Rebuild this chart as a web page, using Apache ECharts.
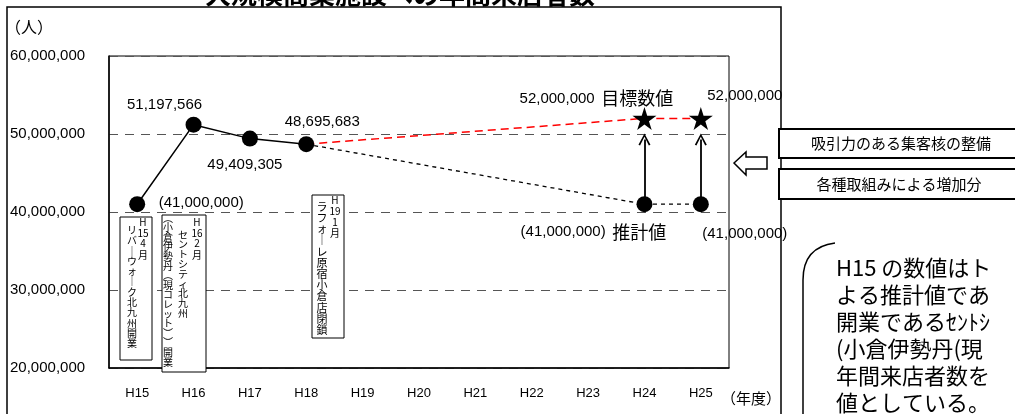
<!DOCTYPE html>
<html>
<head>
<meta charset="utf-8">
<script src="https://cdn.jsdelivr.net/npm/echarts@6.0.0/dist/echarts.min.js"></script>
<style>
html, body {margin:0; padding:0; background:#fff;}
#main {width:1015px; height:414px;}
</style>
</head>
<body>
<div id="main"></div>
<script>
// 年度
var categories = ['H15', 'H16', 'H17', 'H18', 'H19', 'H20', 'H21', 'H22', 'H23', 'H24', 'H25'];
// 実績 (H15は推計値)
var actual = [41000000, 51197566, 49409305, 48695683, null, null, null, null, null, null, null];
// 推計値
var estimate = [null, null, null, 48695683, null, null, null, null, null, 41000000, 41000000];
// 目標数値
var target = [null, null, null, 48695683, null, null, null, null, null, 52000000, 52000000];
// y軸
var yMin = 20000000, yMax = 60000000, yStep = 10000000;
// 増加分の矢印
var arrowCats = ['H24', 'H25'];
var arrowFrom = 41000000, arrowTo = 49300000;

var FONT = "'Liberation Sans', 'Noto Sans CJK JP', sans-serif";
var JP = "'Noto Sans CJK JP', sans-serif";

function fmt(v) {
    return String(v).replace(/\B(?=(\d{3})+(?!\d))/g, ',');
}

var starPath = 'path://M50,0 L61,35 L98,35 L68,57 L79,91 L50,70 L21,91 L32,57 L2,35 L39,35 Z';
var chevron = 'path://M0,12 L6,0 L12,12 L10.4,12.8 L6,3.4 L1.6,12.8 Z';

// ラベル位置
var actualOff = [[64, -1], [-29, -20], [-5, 26], [16, -22]];

var actualData = actual.map(function (v, i) {
    if (v == null) return null;
    return {value: v, label: {offset: actualOff[i]}};
});
var estimateData = estimate.map(function (v, i) {
    if (v == null) return null;
    if (i == 3) return {value: v, symbol: 'none', label: {show: false}};
    if (i == 9) return {value: v, label: {offset: [-51, 28], formatter: '{n|(' + fmt(v) + ')}  {c|推計値}'}};
    return {value: v, label: {offset: [44, 30], formatter: '{n|(' + fmt(v) + ')}'}};
});
var targetData = target.map(function (v, i) {
    if (v == null) return null;
    if (i == 3) return {value: v, symbol: 'none', label: {show: false}};
    if (i == 9) return {value: v, label: {offset: [-48, -20], formatter: '{n|' + fmt(v) + '}  {c|目標数値}'}};
    return {value: v, label: {offset: [44, -23], formatter: '{n|' + fmt(v) + '}'}};
});

var richLbl = {
    n: {fontSize: 15, fontFamily: FONT, color: '#000'},
    c: {fontSize: 18, fontFamily: JP, color: '#000'}
};

// 縦書きテキスト
function vtext(x, y, str, pitch, size) {
    return {
        type: 'text', x: x, y: y, z: 101,
        style: {
            text: str.split('').join('\n'), fill: '#000', font: size + 'px ' + JP,
            lineHeight: pitch, align: 'center', verticalAlign: 'top'
        }
    };
}
function vnum(x, parts, ys, size) {
    return parts.map(function (p, i) {
        return {
            type: 'text', x: x, y: ys[i], z: 101,
            style: {text: p, fill: '#000', font: size + 'px ' + JP, align: 'center', verticalAlign: 'middle'}
        };
    });
}
function box(x, y, w, h, lw) {
    return {
        type: 'rect', z: 100, shape: {x: x, y: y, width: w, height: h},
        style: {fill: '#fff', stroke: '#000', lineWidth: lw || 1}
    };
}

var graphics = [
    {type: 'text', x: 400, y: -6, style: {text: '大規模商業施設への年間来店者数', fill: '#000', font: 'bold 26px ' + JP, align: 'center', verticalAlign: 'middle'}},
    {type: 'rect', z: -1, shape: {x: 7, y: 7, width: 774, height: 440}, style: {fill: 'none', stroke: '#000', lineWidth: 1.5}},
    {type: 'text', x: 5, y: 27, style: {text: '（人）', fill: '#000', font: '16px ' + JP, align: 'left', verticalAlign: 'middle'}},
    {type: 'text', x: 751, y: 398, style: {text: '（年度）', fill: '#000', font: '15px ' + JP, align: 'center', verticalAlign: 'middle'}},
    // 出来事
    box(120, 217, 32, 143),
    box(162, 215, 44, 157),
    box(312, 195, 32, 143),
    vtext(132, 225, 'リバ｜ウォ｜ク北九州開業', 10.3, 10),
    vtext(183, 230, 'セントシティ北九州', 9.8, 10),
    vtext(168, 213, '︵小倉伊勢丹︵現コレット︶︶開業', 9.6, 10),
    vtext(322, 201, 'ラフォ｜レ原宿小倉店閉鎖', 11.2, 11),
    // 右側
    {type: 'polygon', z: 100, shape: {points: [[734, 163], [746, 152], [746, 157], [767, 157], [767, 169], [746, 169], [746, 175]]}, style: {fill: '#fff', stroke: '#000', lineWidth: 1.5}},
    box(779, 129, 250, 29, 2),
    box(779, 169, 250, 30, 2),
    {type: 'text', x: 901, y: 143.5, z: 101, style: {text: '吸引力のある集客核の整備', fill: '#000', font: '15px ' + JP, align: 'center', verticalAlign: 'middle'}},
    {type: 'text', x: 899, y: 184, z: 101, style: {text: '各種取組みによる増加分', fill: '#000', font: '15px ' + JP, align: 'center', verticalAlign: 'middle'}},
    {type: 'bezierCurve', shape: {x1: 835, y1: 243, cpx1: 803, cpy1: 247, x2: 803, y2: 280}, style: {fill: 'none', stroke: '#000', lineWidth: 1.5}},
    {type: 'line', shape: {x1: 803, y1: 280, x2: 803, y2: 430}, style: {stroke: '#000', lineWidth: 1.5}},
    {type: 'text', x: 836, y: 254, style: {
        text: 'H15 の数値はト\nよる推計値であ\n開業であるｾﾝﾄｼ\n(小倉伊勢丹(現\n年間来店者数を\n値としている。',
        fill: '#000', font: '22px ' + JP, lineHeight: 27, align: 'left', verticalAlign: 'top'}}
]
    .concat(vnum(143, ['H', '15', '4', '月'], [222, 233, 243, 255], 10))
    .concat(vnum(197, ['H', '16', '2', '月'], [222, 233, 243, 255], 10))
    .concat(vnum(335, ['H', '19', '1', '月'], [200, 211, 222, 233], 10));

var myChart = echarts.init(document.getElementById('main'));
var option = {
    animation: false,
    textStyle: {fontFamily: FONT},
    grid: {left: 109, right: 286, top: 56, bottom: 46, show: true, borderColor: '#000', borderWidth: 1},
    xAxis: {
        type: 'category',
        data: categories,
        boundaryGap: true,
        axisLine: {lineStyle: {color: '#000', width: 1.5}},
        axisTick: {inside: true, length: 6, lineStyle: {color: '#000'}},
        axisLabel: {color: '#000', fontSize: 13, margin: 19, fontFamily: FONT},
        splitLine: {show: false}
    },
    yAxis: {
        type: 'value',
        min: yMin, max: yMax, interval: yStep,
        axisLine: {show: true, lineStyle: {color: '#000', width: 1.5}},
        axisTick: {show: false},
        axisLabel: {color: '#000', fontSize: 15, align: 'left', margin: 99, fontFamily: FONT, formatter: fmt},
        splitLine: {lineStyle: {color: '#555', type: [9, 7], width: 1}}
    },
    series: [
        {
            name: 'arrows', type: 'line', data: [], z: 1, silent: true,
            markLine: {
                silent: true, animation: false,
                symbol: ['none', chevron], symbolSize: [12, 12],
                lineStyle: {color: '#000', width: 1.8, type: 'solid'},
                label: {show: false},
                emphasis: {disabled: true},
                data: arrowCats.map(function (c) {
                    return [{coord: [c, arrowFrom]}, {coord: [c, arrowTo]}];
                })
            }
        },
        {
            name: '目標数値', type: 'line', data: targetData, connectNulls: true, z: 3,
            symbol: starPath, symbolSize: [24, 23],
            itemStyle: {color: '#000'},
            lineStyle: {color: '#ff0000', width: 1.5, type: [8, 5]},
            label: {show: true, position: 'inside', align: 'center', verticalAlign: 'middle', color: '#000', rich: richLbl, textBorderWidth: 0},
            emphasis: {disabled: true}
        },
        {
            name: '推計値', type: 'line', data: estimateData, connectNulls: true, z: 3,
            symbol: 'circle', symbolSize: 16,
            itemStyle: {color: '#000'},
            lineStyle: {color: '#000', width: 1.3, type: [4, 4]},
            label: {show: true, position: 'inside', align: 'center', verticalAlign: 'middle', color: '#000', rich: richLbl, textBorderWidth: 0},
            emphasis: {disabled: true}
        },
        {
            name: '実績', type: 'line', data: actualData, z: 4,
            symbol: 'circle', symbolSize: 16,
            itemStyle: {color: '#000'},
            lineStyle: {color: '#000', width: 1.5},
            label: {
                show: true, position: 'inside', align: 'center', verticalAlign: 'middle',
                color: '#000', fontSize: 15, fontFamily: FONT, textBorderWidth: 0,
                formatter: function (p) {
                    return p.dataIndex == 0 ? '(' + fmt(p.value) + ')' : fmt(p.value);
                }
            },
            emphasis: {disabled: true}
        }
    ],
    graphic: graphics
};

myChart.setOption(option);
</script>
</body>
</html>
